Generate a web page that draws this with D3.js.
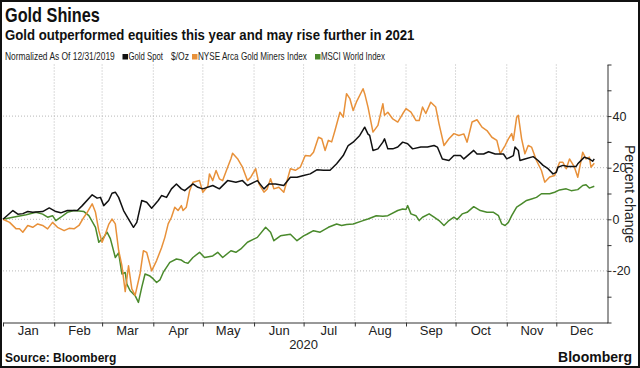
<!DOCTYPE html>
<html>
  <head>
    <meta charset="utf-8">
    <script src="https://cdn.jsdelivr.net/npm/d3@7/dist/d3.min.js"></script>
    <style>
      body { margin: 0; background: #fff; }
      svg { display: block; font-family: "Liberation Sans", Arial, sans-serif; }
      .grid line { stroke: #b8b8b8; stroke-width: 1px; stroke-dasharray: 1, 2; }
      .axis path, .axis line { stroke: #333; }
      .axis text { fill: #222; font-size: 13px; }
      .yaxis text { font-size: 12.5px; }
      .series { fill: none; stroke-width: 1.5px; stroke-linejoin: round; }
    </style>
  </head>
  <body>
    <script>
      // 2020 dates (MM-DD) and % change since 12/31/2019
      const goldDates = ['01-01','01-07','01-10','01-13','01-16','01-19','01-25','01-29','02-02','02-05','02-09','02-15','02-18','02-24','02-27','02-29','03-02','03-05','03-07','03-09','03-11','03-14','03-17','03-20','03-22','03-25','03-28','03-31','04-04','04-06','04-09','04-12','04-15','04-18','04-20','04-25','04-28','05-01','05-07','05-11','05-16','05-21','05-25','05-28','06-03','06-07','06-10','06-14','06-19','06-23','06-27','07-01','07-05','07-09','07-13','07-17','07-21','07-25','07-28','07-31','08-04','08-07','08-09','08-10','08-12','08-15','08-18','08-19','08-21','08-24','08-27','08-30','09-02','09-05','09-10','09-14','09-18','09-20','09-23','09-27','09-30','10-04','10-06','10-12','10-14','10-18','10-21','10-25','10-30','11-01','11-05','11-06','11-08','11-09','11-12','11-17','11-20','11-23','11-26','11-29','12-01','12-02','12-05','12-08','12-13','12-14','12-18','12-21','12-23','12-24'];
      const goldValues = [0,3.4,2,2.2,3,2.7,3,4.4,3,2.5,3.4,3.4,5.3,9.5,8.2,8.5,5.3,7.3,10.1,10.5,8.5,3.4,0.1,-3.1,-1.2,7.3,6.6,4.3,7.3,9.2,8.5,11.8,13.7,11.8,11.1,13.7,12.4,11.8,13.1,11.8,15,14.4,15,13.1,15,11.8,13.7,13.7,13.1,16.3,16.3,17,17.6,19.2,19,19,21.5,24.7,28.6,29.9,32.5,35.7,33,32.5,26.7,27.3,29.9,31.2,27.3,27.3,28,29.9,29.3,27.3,28,28,28.6,28,23.4,22.8,24.7,24.7,23.4,26.7,25.3,25.3,26.2,25.3,25.3,23.4,24.7,28,26.7,22.8,23.4,24.3,22.8,20.9,19.6,17.6,18.2,20.2,20.9,20.5,20.5,21.5,24.1,23.4,22.5,23.4];

      const minersDates = ['01-01','01-05','01-09','01-11','01-13','01-16','01-19','01-22','01-25','01-28','01-31','02-03','02-07','02-10','02-13','02-16','02-19','02-21','02-24','02-26','02-28','03-01','03-03','03-05','03-07','03-09','03-11','03-13','03-15','03-17','03-19','03-21','03-24','03-26','03-28','03-31','04-03','04-06','04-08','04-10','04-12','04-14','04-16','04-18','04-19','04-21','04-23','04-25','04-29','05-01','05-04','05-05','05-07','05-09','05-11','05-13','05-16','05-18','05-19','05-22','05-25','05-28','05-30','06-02','06-04','06-07','06-09','06-11','06-13','06-16','06-19','06-21','06-23','06-26','06-29','07-02','07-05','07-07','07-10','07-12','07-14','07-16','07-18','07-20','07-23','07-25','07-27','07-29','07-31','08-02','08-06','08-07','08-09','08-12','08-15','08-18','08-19','08-21','08-24','08-27','08-30','09-01','09-04','09-07','09-09','09-11','09-13','09-16','09-19','09-21','09-24','09-27','09-30','10-03','10-06','10-08','10-11','10-14','10-17','10-20','10-23','10-26','10-28','10-31','11-02','11-04','11-05','11-07','11-08','11-10','11-12','11-14','11-16','11-19','11-22','11-24','11-27','11-30','12-03','12-05','12-07','12-09','12-12','12-14','12-17','12-19','12-21','12-22','12-24'];
      const minersValues = [0,-1.2,-3.7,-3.7,-5,-2.4,-3.1,-1.8,-2.4,-3.7,-1.2,-3.1,-4.4,-3.5,-3.7,-2.4,0.8,2.7,6,2.7,-4.4,-8.9,-5.7,-2,0.1,-1.8,-12,-18,-28,-18,-27,-29.5,-21,-12.2,-12.8,-20,-16,-11,-7,-1.8,0.8,4.7,3.4,5.3,3.4,4.7,11.1,14.4,15,10.5,12.8,17.6,15,18.9,15.7,15,20.2,23.5,25.6,23.5,20.2,15,16.3,19.6,13.7,10.5,11.8,15.7,11.8,12.4,10.5,15,19.6,19,20.2,24.7,24.5,26,31.8,31.2,26.7,30.6,30,34.4,41.5,39.6,48.7,46.8,42.2,45.5,50.6,48.7,43.5,33.8,36.4,44.8,40.3,41.5,38.9,37.7,40.9,42.9,41.5,38.3,38.3,43.5,41,45.4,43.5,37,28.6,31.2,33.2,32.5,33.1,29.9,37.7,38.6,35.7,34.4,31.8,30.6,25.4,28.6,31.2,33.2,30.6,39.6,40.3,31.2,25.4,28.6,28,22.8,18.9,14.4,16.4,17,22.1,22.1,19.6,23.4,20.2,16.3,26,23.4,24.1,20.2,21.7];

      const msciDates = ['01-01','01-07','01-15','01-21','01-25','01-28','01-31','02-02','02-05','02-09','02-13','02-19','02-22','02-26','02-28','03-02','03-04','03-06','03-09','03-11','03-13','03-15','03-16','03-18','03-21','03-23','03-25','03-27','03-30','04-01','04-03','04-05','04-07','04-11','04-15','04-18','04-20','04-22','04-25','04-29','05-02','05-07','05-10','05-13','05-18','05-21','05-24','05-28','06-03','06-08','06-11','06-13','06-17','06-23','06-27','07-01','07-03','07-07','07-11','07-16','07-21','07-24','07-27','07-31','08-06','08-09','08-14','08-18','08-21','08-27','08-30','09-01','09-02','09-04','09-07','09-09','09-11','09-15','09-18','09-21','09-24','09-27','09-30','10-02','10-05','10-08','10-12','10-16','10-20','10-24','10-27','10-29','10-31','11-02','11-04','11-07','11-10','11-13','11-16','11-19','11-22','11-27','11-30','12-03','12-07','12-10','12-14','12-17','12-19','12-21','12-24'];
      const msciValues = [0,0.8,1.8,2.7,2,0.8,1.4,-0.5,0.8,2.7,3.4,3,1.4,-3.1,-8.9,-7,-5,-7.5,-14.8,-13,-21.2,-20.6,-25.1,-27.7,-29.6,-32.2,-26.4,-21.2,-22,-23.1,-24.5,-23.5,-20.6,-16.7,-15.4,-15.8,-16.7,-17,-14.8,-12.8,-14.8,-14.2,-12.8,-14.8,-12.2,-12.8,-11.5,-8.9,-7,-3.1,-5,-8.3,-6.4,-5.8,-8.3,-6.4,-5.8,-4.4,-5,-3.1,-1.8,-2.4,-2,-1.8,-0.5,0.1,1.4,1.2,1.4,3.4,4,3.8,5.3,2.1,1.4,-0.5,0.8,2.1,0.8,-0.5,-2.4,-0.5,0.8,-0.1,2.1,2.7,4.9,3.4,2.7,2.7,1.4,-1.8,-2.4,-1.2,1.4,4.7,6,7.3,7.9,8.5,9.9,9.9,10.5,11.4,11.8,11.1,11.5,13.1,13.4,12.1,12.8];

      const seriesNames = ['Gold Spot', 'NYSE Arca Gold Miners Index', 'MSCI World Index'];
      const seriesColors = ['#111111', '#e8913a', '#4a8a2c'];
      const yTicks = [-40, -30, -20, -10, 0, 10, 20, 30, 40, 50, 60];
      const yLabels = [-20, 0, 20, 40];

      const width = 640;
      const height = 368;
      const parse = d3.timeParse('%Y-%m-%d');
      const toPoints = (dates, values) => dates.map((d, i) => ({date: parse('2020-' + d), value: values[i]}));
      const series = [
        toPoints(goldDates, goldValues),
        toPoints(minersDates, minersValues),
        toPoints(msciDates, msciValues)
      ];

      const x = d3.scaleTime()
        .domain([new Date(2020, 0, 1), new Date(2021, 0, 1)])
        .range([3, 607.5]);
      const y = d3.scaleLinear()
        .domain([-40, 60])
        .range([322.5, 64.5]);

      const svg = d3.select('body')
        .append('svg')
        .attr('width', width)
        .attr('height', height);

      // the reference type is narrow: squeeze a text horizontally to a given width
      function fitText(parent, px, py, w, str, size, bold) {
        const g = parent.append('g').attr('transform', `translate(${px},${py})`);
        const t = g.append('text')
          .style('font-size', size + 'px')
          .style('font-weight', bold ? 'bold' : 'normal')
          .text(str);
        const natural = t.node().getComputedTextLength();
        g.attr('transform', `translate(${px},${py}) scale(${w / natural},1)`);
        return t;
      }

      // titles
      const head = svg.append('g').style('fill', '#111');
      fitText(head, 5, 22, 95, 'Gold Shines', 20, true);
      fitText(head, 5, 39.5, 410, 'Gold outperformed equities this year and may rise further in 2021', 15, true);

      // legend line
      const legend = svg.append('g').style('fill', '#222');
      fitText(legend, 5, 60, 110, 'Normalized As Of 12/31/2019', 10.5, false);
      const legendItems = [
        {sx: 122.5, tx: 128.5, w: 34.5},
        {sx: 192, tx: 198, w: 109},
        {sx: 315, tx: 321, w: 64}
      ];
      legendItems.forEach((item, i) => {
        legend.append('rect')
          .attr('x', item.sx).attr('y', 54).attr('width', 5.5).attr('height', 5.5)
          .style('fill', seriesColors[i]);
        fitText(legend, item.tx, 60, item.w, seriesNames[i], 10.5, false);
      });
      fitText(legend, 171, 60, 18, '$/Oz', 10.5, false);

      // grid
      const monthStarts = d3.timeMonths(new Date(2020, 1, 1), new Date(2020, 11, 2));
      svg.append('g').attr('class', 'grid')
        .selectAll('line').data(monthStarts).enter()
        .append('line')
        .attr('x1', d => x(d)).attr('x2', d => x(d))
        .attr('y1', y(60)).attr('y2', y(-40));
      svg.append('g').attr('class', 'grid')
        .selectAll('line').data(yLabels).enter()
        .append('line')
        .attr('x1', x.range()[0]).attr('x2', x.range()[1])
        .attr('y1', d => y(d)).attr('y2', d => y(d));

      // series
      const line = d3.line().x(d => x(d.date)).y(d => y(d.value));
      [2, 1, 0].forEach(i => {
        svg.append('path')
          .datum(series[i])
          .attr('class', 'series')
          .attr('d', line)
          .style('stroke', seriesColors[i]);
      });

      // x axis: ticks at month starts, labels mid-month
      const allMonths = d3.timeMonths(new Date(2020, 0, 1), new Date(2020, 11, 2));
      svg.append('g').attr('class', 'axis')
        .attr('transform', `translate(0,${y(-40)})`)
        .call(d3.axisBottom(x)
          .tickValues(allMonths)
          .tickSize(4)
          .tickSizeOuter(0)
          .tickFormat(''));
      svg.append('g').attr('class', 'axis')
        .attr('transform', `translate(0,${y(-40)})`)
        .call(d3.axisBottom(x)
          .tickValues(allMonths.map(d => d3.timeDay.offset(d, 15)))
          .tickSize(0)
          .tickPadding(3)
          .tickFormat(d3.timeFormat('%b')))
        .call(g => g.select('.domain').remove());
      svg.append('text')
        .attr('x', x(new Date(2020, 6, 1))).attr('y', 349)
        .attr('text-anchor', 'middle')
        .style('font-size', '13px').style('fill', '#222')
        .text('2020');

      // y axis on the right
      svg.append('g').attr('class', 'axis yaxis')
        .attr('transform', `translate(${x.range()[1]},0)`)
        .call(d3.axisRight(y)
          .tickValues(yTicks)
          .tickSize(4)
          .tickSizeOuter(0)
          .tickPadding(1)
          .tickFormat(d => yLabels.includes(d) ? String(d) : ''));
      svg.append('text')
        .attr('transform', `translate(625,194) rotate(90)`)
        .attr('text-anchor', 'middle')
        .style('font-size', '14px').style('fill', '#222')
        .text('Percent change');

      // footer
      svg.append('text')
        .attr('x', 5).attr('y', 362)
        .style('font-size', '12px').style('font-weight', 'bold').style('fill', '#111')
        .text('Source: Bloomberg');
      svg.append('text')
        .attr('x', 632).attr('y', 362)
        .attr('text-anchor', 'end')
        .style('font-size', '14px').style('font-weight', 'bold').style('fill', '#111')
        .text('Bloomberg');

      // frame
      svg.append('rect')
        .attr('x', 1).attr('y', 1).attr('width', width - 2).attr('height', height - 2)
        .style('fill', 'none').style('stroke', '#111').style('stroke-width', 2);
    </script>
  </body>
</html>
